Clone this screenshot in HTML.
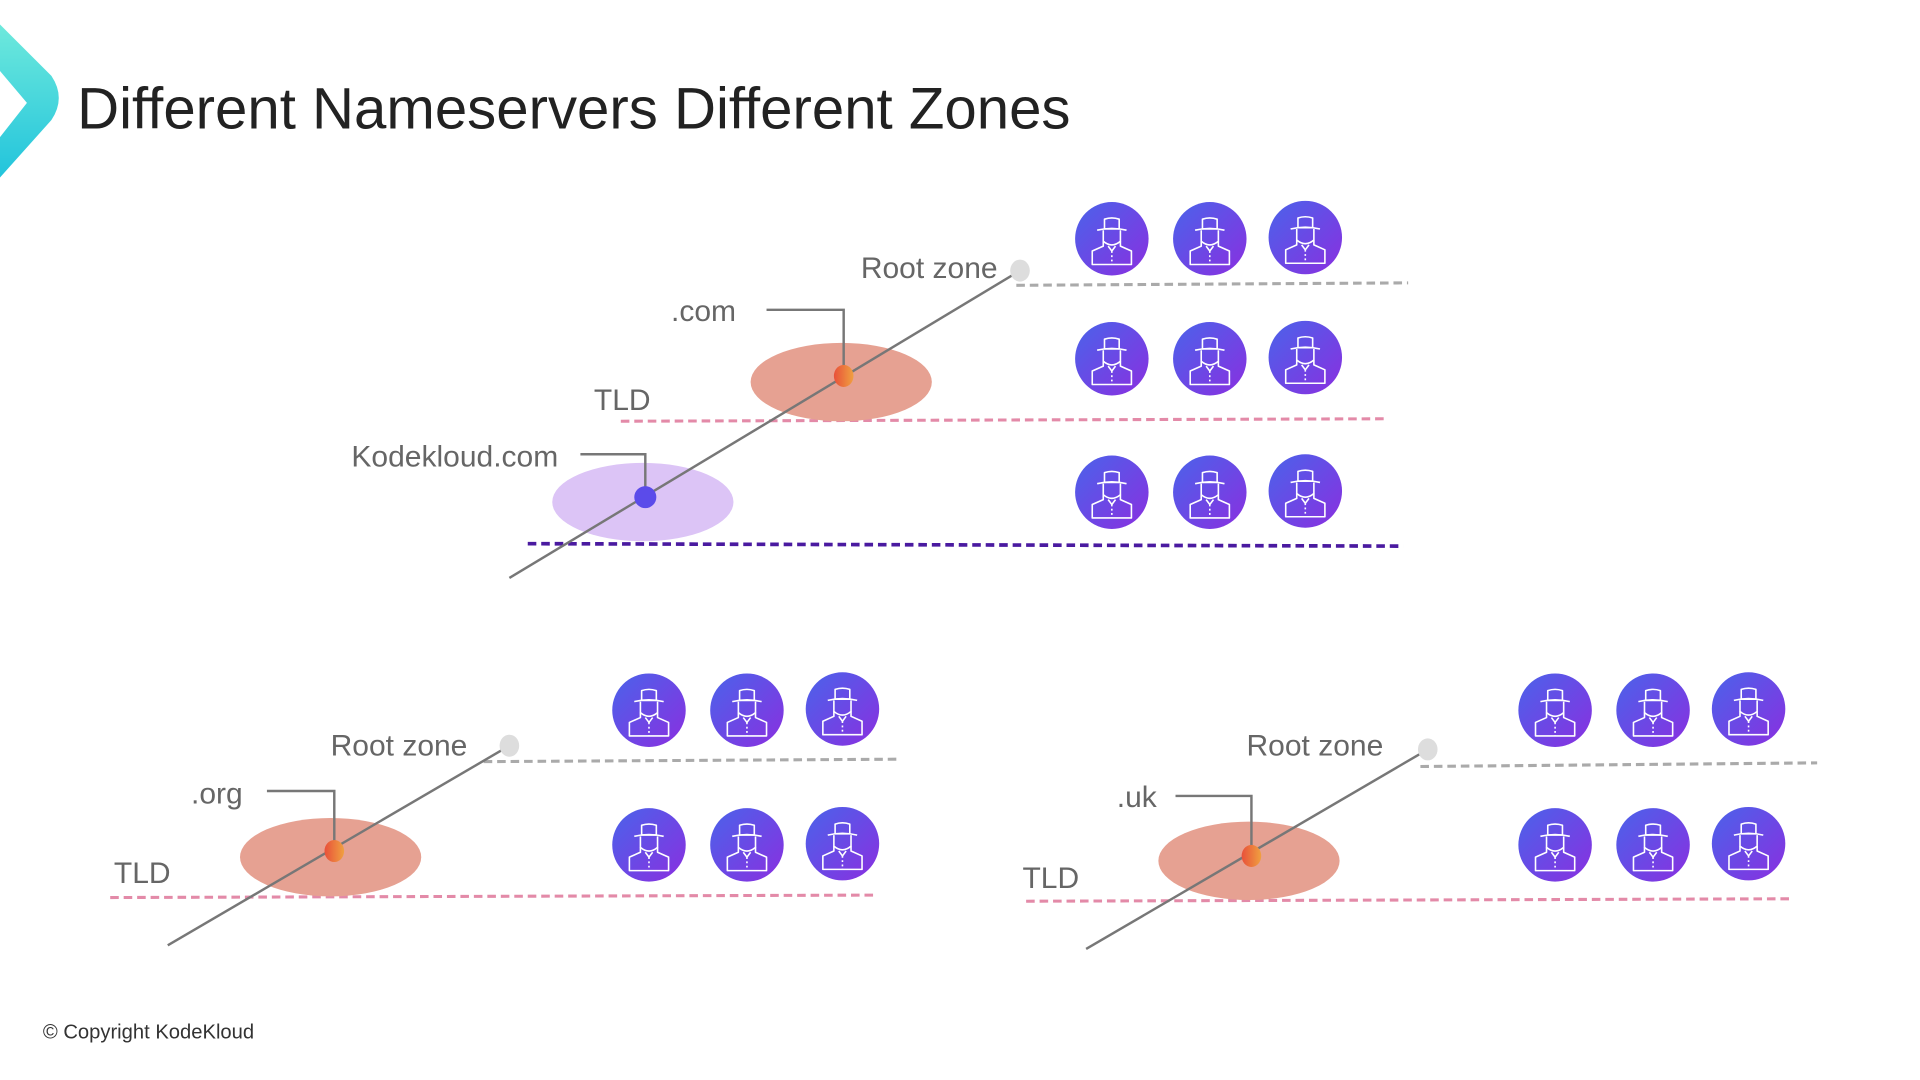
<!DOCTYPE html>
<html><head><meta charset="utf-8"><style>
html,body{margin:0;padding:0;background:#fff;width:1920px;height:1080px;overflow:hidden}
svg{display:block}
text{font-family:"Liberation Sans",sans-serif}
</style></head><body>
<svg width="1920" height="1080" viewBox="0 0 1568 882" preserveAspectRatio="none" xmlns="http://www.w3.org/2000/svg">
<defs>
<linearGradient id="ig" x1="0" y1="0" x2="1" y2="1">
<stop offset="0" stop-color="#4a63ea"/><stop offset="1" stop-color="#8a2fe0"/></linearGradient>
<linearGradient id="cy" x1="0" y1="0" x2="0" y2="1">
<stop offset="0" stop-color="#6ee9dc"/><stop offset="1" stop-color="#22c4dc"/></linearGradient>
<linearGradient id="od" x1="0" y1="0" x2="1" y2="0">
<stop offset="0" stop-color="#e8503a"/><stop offset="1" stop-color="#f0a040"/></linearGradient>
<g id="ic">
<circle r="30" fill="url(#ig)"/>
<g fill="none" stroke="#fff" stroke-width="1.3" stroke-linejoin="round">
<path d="M-6,-16 L-6,-8 L6,-8 L6,-16 Q0,-18 -6,-16 Z"/>
<path d="M-12,-7 Q0,-10 12,-7"/>
<path d="M-7,-7 L-7,2 Q0,8 7,2 L7,-7"/>
<path d="M-7,2 L-7,6 L-16,10 L-16,21 L16,21 L16,10 L7,6 L7,2"/>
<path d="M-3,6 L0,10 L3,6"/>
<path d="M0,10 L0,21" stroke-dasharray="1.5 2"/>
</g>
</g>
</defs>

<path d="M0,20 L42,62 Q54,80 42,98 L0,145 L0,112 L22,84 L0,58 Z" fill="url(#cy)"/>
<text x="63" y="105" font-size="47.5" fill="#222">Different Nameservers Different Zones</text>

<!-- top diagram -->
<g stroke-dasharray="7 4" fill="none">
<line x1="830" y1="233" x2="1150" y2="231" stroke="#aaa" stroke-width="2.5"/>
<line x1="507" y1="344" x2="1130" y2="342" stroke="#e38aa8" stroke-width="2.5"/>
<line x1="431" y1="444" x2="1146" y2="446" stroke="#4a1aa0" stroke-width="3"/>
</g>
<ellipse cx="687" cy="312" rx="74" ry="32" fill="#e6a192"/>
<ellipse cx="525" cy="410" rx="74" ry="32" fill="#dcc4f6"/>
<line x1="416" y1="472" x2="833" y2="221" stroke="#777" stroke-width="2"/>
<polyline points="626,253 689,253 689,307" fill="none" stroke="#777" stroke-width="2"/>
<polyline points="474,371 527,371 527,406" fill="none" stroke="#777" stroke-width="2"/>
<ellipse cx="833" cy="221" rx="8" ry="9" fill="#ddd"/>
<ellipse cx="689" cy="307" rx="8" ry="9" fill="url(#od)"/>
<circle cx="527" cy="406" r="9" fill="#5b4bea"/>
<g font-size="24.5" fill="#666">
<text x="703" y="227">Root zone</text>
<text x="548" y="262">.com</text>
<text x="485" y="335">TLD</text>
<text x="287" y="381">Kodekloud.com</text>
</g>
<use href="#ic" x="908" y="195"/><use href="#ic" x="988" y="195"/><use href="#ic" x="1066" y="194"/>
<use href="#ic" x="908" y="293"/><use href="#ic" x="988" y="293"/><use href="#ic" x="1066" y="292"/>
<use href="#ic" x="908" y="402"/><use href="#ic" x="988" y="402"/><use href="#ic" x="1066" y="401"/>

<!-- bottom left -->
<g stroke-dasharray="7 4" fill="none" stroke-width="2.5">
<line x1="395" y1="622" x2="735" y2="620" stroke="#aaa"/>
<line x1="90" y1="733" x2="713" y2="731" stroke="#e38aa8"/>
</g>
<ellipse cx="270" cy="700" rx="74" ry="32" fill="#e6a192"/>
<line x1="137" y1="772" x2="416" y2="609" stroke="#777" stroke-width="2"/>
<polyline points="218,646 273,646 273,695" fill="none" stroke="#777" stroke-width="2"/>
<ellipse cx="416" cy="609" rx="8" ry="9" fill="#ddd"/>
<ellipse cx="273" cy="695" rx="8" ry="9" fill="url(#od)"/>
<g font-size="24.5" fill="#666">
<text x="270" y="617">Root zone</text>
<text x="156" y="656">.org</text>
<text x="93" y="721">TLD</text>
</g>
<use href="#ic" x="530" y="580"/><use href="#ic" x="610" y="580"/><use href="#ic" x="688" y="579"/>
<use href="#ic" x="530" y="690"/><use href="#ic" x="610" y="690"/><use href="#ic" x="688" y="689"/>

<!-- bottom right -->
<g stroke-dasharray="7 4" fill="none" stroke-width="2.5">
<line x1="1160" y1="626" x2="1484" y2="623" stroke="#aaa"/>
<line x1="838" y1="736" x2="1463" y2="734" stroke="#e38aa8"/>
</g>
<ellipse cx="1020" cy="703" rx="74" ry="32" fill="#e6a192"/>
<line x1="887" y1="775" x2="1166" y2="612" stroke="#777" stroke-width="2"/>
<polyline points="960,650 1022,650 1022,699" fill="none" stroke="#777" stroke-width="2"/>
<ellipse cx="1166" cy="612" rx="8" ry="9" fill="#ddd"/>
<ellipse cx="1022" cy="699" rx="8" ry="9" fill="url(#od)"/>
<g font-size="24.5" fill="#666">
<text x="1018" y="617">Root zone</text>
<text x="912" y="659">.uk</text>
<text x="835" y="725">TLD</text>
</g>
<use href="#ic" x="1270" y="580"/><use href="#ic" x="1350" y="580"/><use href="#ic" x="1428" y="579"/>
<use href="#ic" x="1270" y="690"/><use href="#ic" x="1350" y="690"/><use href="#ic" x="1428" y="689"/>

<text x="35" y="848" font-size="16.5" fill="#333">© Copyright KodeKloud</text>
</svg>
</body></html>
